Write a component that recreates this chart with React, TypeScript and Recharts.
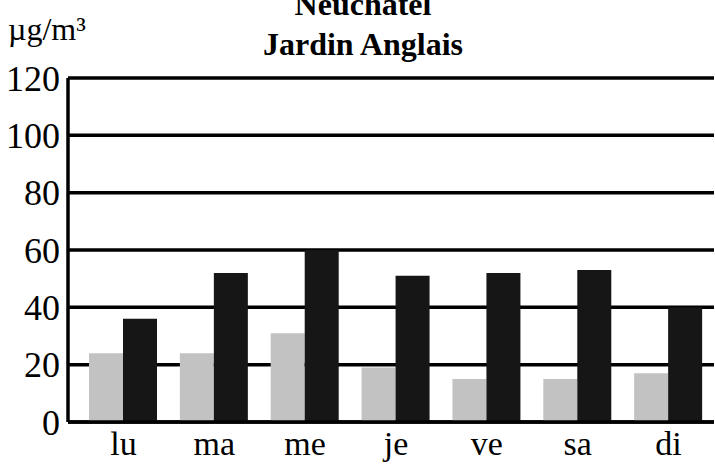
import { BarChart, Bar, XAxis, YAxis, CartesianGrid } from 'recharts'

const days = ['lu', 'ma', 'me', 'je', 've', 'sa', 'di']
const lightSeries = [24, 24, 31, 19, 15, 15, 17]
const darkSeries = [36, 52, 60, 51, 52, 53, 40]
const yTicks = [0, 20, 40, 60, 80, 100, 120]

const data = days.map((day, i) => ({
  day,
  light: lightSeries[i],
  dark: darkSeries[i],
}))

const serif = '"Liberation Serif", "Times New Roman", serif'

export default function App() {
  return (
    <div style={{ position: 'relative', width: 715, height: 465, background: '#fff', fontFamily: serif, overflow: 'hidden' }}>
      <style>{'body{margin:0}'}</style>
      {/* titles */}
      <div
        style={{
          position: 'absolute',
          left: 0,
          width: 726,
          top: -13,
          textAlign: 'center',
          fontWeight: 'bold',
          fontSize: 32,
          lineHeight: '34px',
          color: '#000',
        }}
      >
        Neuchâtel
      </div>
      <div
        style={{
          position: 'absolute',
          left: 0,
          width: 726,
          top: 27,
          textAlign: 'center',
          fontWeight: 'bold',
          fontSize: 32,
          lineHeight: '34px',
          color: '#000',
        }}
      >
        Jardin Anglais
      </div>
      <div style={{ position: 'absolute', left: 8, top: 12, fontSize: 32, lineHeight: '34px', color: '#000' }}>
        µg/m³
      </div>

      <BarChart
        width={715}
        height={465}
        data={data}
        margin={{ top: 78, right: 1, bottom: 0, left: 0 }}
        barCategoryGap={11}
        barGap={0}
      >
        <CartesianGrid vertical={false} stroke="#000" strokeWidth={3.5} />
        <XAxis
          dataKey="day"
          height={43}
          padding={{ left: 10, right: 0 }}
          axisLine={{ stroke: '#000', strokeWidth: 3.5 }}
          tickLine={false}
          tickSize={0}
          tickMargin={9}
          tick={{ fontSize: 34, fill: '#000', fontFamily: serif }}
        />
        <YAxis
          width={68}
          domain={[0, 120]}
          ticks={yTicks}
          interval={0}
          axisLine={{ stroke: '#000', strokeWidth: 3.5 }}
          tickLine={false}
          tickSize={0}
          tickMargin={8}
          tick={{ fontSize: 36, fill: '#000', fontFamily: serif }}
        />
        <Bar dataKey="light" fill="#c2c2c2" isAnimationActive={false} />
        <Bar dataKey="dark" fill="#161616" isAnimationActive={false} />
      </BarChart>
    </div>
  )
}
